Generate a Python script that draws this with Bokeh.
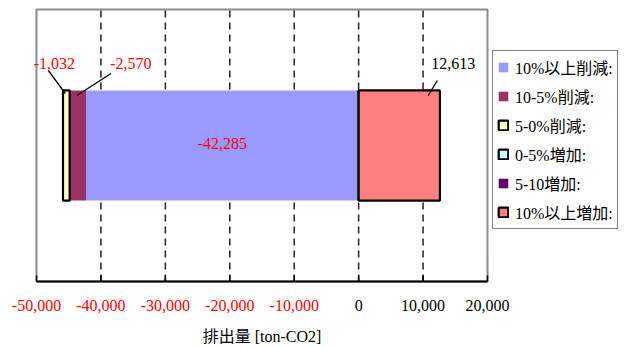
from bokeh.plotting import figure
from bokeh.models import Range1d, Legend, LegendItem, ColumnDataSource
from bokeh.embed import file_html
from bokeh.resources import INLINE
from bokeh.core.properties import value

# ---------------- data ----------------
series = ["10%以上削減:", "10-5%削減:", "5-0%削減:", "0-5%増加:", "5-10増加:", "10%以上増加:"]
values = [-42285, -2570, -1032, 0, 0, 12613]
colors = ["#9999FF", "#993366", "#FFFFCC", "#CCFFFF", "#660066", "#FF8080"]
outlines = [None, None, "black", "black", None, "black"]
x_ticks = [-50000, -40000, -30000, -20000, -10000, 0, 10000, 20000]
x_min, x_max = -50000, 20000
axis_title = "排出量 [ton-CO2]"

# label placement (pixel offsets from the segment's centre): label, leader start, leader end
label_off = [(0, -2), (53, -82), (-12, -82), None, None, (54, -82)]
leader_off = [None, ((33, -72), (-1, -50)), ((-18, -75), (-1, -52)), None, None, ((38, -65), (29, -50))]

# ---------------- layout (plot area inside the canvas) ----------------
W, H = 626, 347
L, R, T, B = 36, 139, 9, 66
fw = W - L - R
fh = H - T - B
px_x = fw / (x_max - x_min)
px_y = fh / 1.0
bar_y = 0.5
bar_h = 0.405
TICK_LABEL_DY = 24   # px below the axis line (label centre)
TITLE_DY = 55        # px below the axis line (title centre)
TICK_LEN = 6

SERIF = "'Liberation Serif', 'Noto Sans CJK JP', serif"

p = figure(width=W, height=H,
           x_range=Range1d(x_min - L / px_x, x_max + R / px_x),
           y_range=Range1d(0 - B / px_y, 1 + T / px_y),
           output_backend="svg", toolbar_location=None,
           x_axis_location=None, y_axis_location=None,
           min_border=0)
p.background_fill_color = "white"
p.border_fill_color = "white"
p.outline_line_color = None
p.xgrid.visible = False
p.ygrid.visible = False

# plot-area frame (grey)
p.quad(left=[x_min], right=[x_max], bottom=[0], top=[1], fill_color=None,
       line_color="#8c8c8c", line_width=2)

# dashed vertical gridlines
inner = x_ticks[1:-1]
p.segment(x0=inner, x1=inner, y0=[0] * len(inner), y1=[1] * len(inner),
          line_color="#222222", line_width=1.5, line_dash="7 5")

# ---------------- bars ----------------
items = []
neg, pos = 0, 0
lab_x, lab_y, lab_t, lab_c = [], [], [], []
seg_x0, seg_y0, seg_x1, seg_y1 = [], [], [], []
for name, v, c, oc, lo, ll in zip(series, values, colors, outlines, label_off, leader_off):
    if v < 0:
        left, right = neg + v, neg
        neg += v
    else:
        left, right = pos, pos + v
        pos += v
    src = ColumnDataSource(dict(y=[bar_y], left=[left], right=[right]))
    r = p.hbar(y="y", left="left", right="right", height=bar_h, source=src,
               fill_color=c, line_color=oc, line_width=2.2 if oc else 0)
    items.append(LegendItem(label=name, renderers=[r]))
    cx = (left + right) / 2
    if lo is not None:
        lab_x.append(cx + lo[0] / px_x)
        lab_y.append(bar_y - lo[1] / px_y)
        lab_t.append(f"{v:,}")
        lab_c.append("red" if v < 0 else "black")
    if ll is not None:
        (a, b), (c2, d) = ll
        seg_x0.append(cx + a / px_x); seg_y0.append(bar_y - b / px_y)
        seg_x1.append(cx + c2 / px_x); seg_y1.append(bar_y - d / px_y)

p.segment(x0=seg_x0, y0=seg_y0, x1=seg_x1, y1=seg_y1, line_color="black", line_width=1.3)
p.text(x=lab_x, y=lab_y, text=lab_t, text_color=lab_c, text_align="center",
       text_baseline="middle", text_font=value(SERIF), text_font_size="16px")

# ---------------- x axis ----------------
p.segment(x0=[x_min], x1=[x_max], y0=[0], y1=[0], line_color="black", line_width=2)
p.segment(x0=x_ticks, x1=x_ticks, y0=[0] * len(x_ticks), y1=[TICK_LEN / px_y] * len(x_ticks),
          line_color="black", line_width=1.5)
tick_src = ColumnDataSource(dict(
    x=x_ticks,
    y=[-TICK_LABEL_DY / px_y] * len(x_ticks),
    text=[f"{t:,}" for t in x_ticks],
    color=["red" if t < 0 else "black" for t in x_ticks],
))
p.text(x="x", y="y", text="text", text_color="color", source=tick_src,
       text_align="center", text_baseline="middle",
       text_font=value(SERIF), text_font_size="16px")
p.text(x=[(x_min + x_max) / 2], y=[-TITLE_DY / px_y], text=[axis_title],
       text_color="black", text_align="center", text_baseline="middle",
       text_font=value(SERIF), text_font_size="16px")

# ---------------- legend ----------------
legend = Legend(items=items, location=(492, 118), label_text_font=SERIF,
                label_text_font_size="16px", label_text_color="black",
                label_standoff=6, glyph_width=12, glyph_height=12,
                label_height=20, spacing=5, padding=4, margin=0,
                border_line_color="black", border_line_width=1,
                background_fill_color="white", background_fill_alpha=1.0)
p.add_layout(legend, "center")

open("out.html", "w").write(file_html(p, INLINE))
